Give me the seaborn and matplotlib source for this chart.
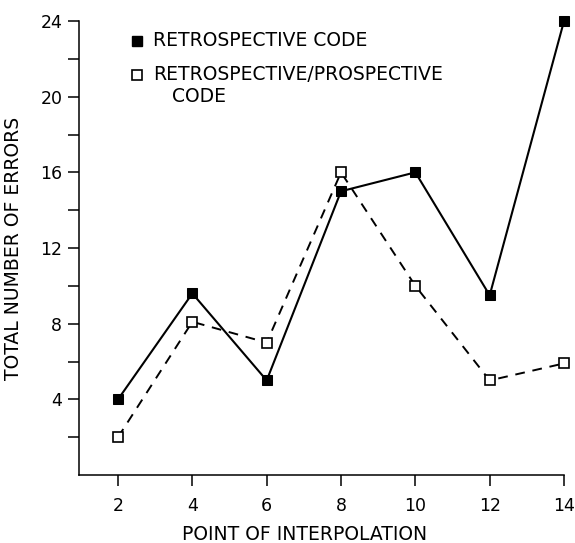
import pandas as pd
import matplotlib
matplotlib.use("Agg")
import matplotlib.pyplot as plt
import seaborn as sns

# values
points = [2, 4, 6, 8, 10, 12, 14]
retro = [4, 9.6, 5, 15, 16, 9.5, 24]
retro_pro = [2, 8.1, 7, 16, 10, 5, 5.9]

label_retro = "RETROSPECTIVE CODE"
label_retro_pro = "RETROSPECTIVE/PROSPECTIVE"
label_retro_pro2 = "CODE"

data = pd.DataFrame({"point": points, "retro": retro, "retro_pro": retro_pro})

sns.set_style("ticks")
plt.rcParams["font.family"] = ["DejaVu Sans"]
plt.rcParams["text.color"] = "black"

fig = plt.figure(figsize=(5.75, 5.43), dpi=100)
ax = fig.add_axes([0.1374, 0.1252, 0.8435, 0.8361])

# retrospective/prospective: dashed line, open squares
sns.lineplot(data=data, x="point", y="retro_pro", ax=ax, color="black",
             linewidth=1.4, linestyle=(0, (5, 4)), marker="s", markersize=7,
             markerfacecolor="white", markeredgecolor="black", markeredgewidth=1.2,
             clip_on=False)
# retrospective: solid line, filled squares
sns.lineplot(data=data, x="point", y="retro", ax=ax, color="black",
             linewidth=1.5, marker="s", markersize=7.5,
             markerfacecolor="black", markeredgecolor="black", clip_on=False)

ax.set_xlim(0.95, 14)
ax.set_ylim(0, 24)
ax.set_xticks(points)
ax.set_yticks([4, 8, 12, 16, 20, 24])
ax.set_yticks([2, 6, 10, 14, 18, 22], minor=True)
ax.tick_params(axis="both", which="both", direction="out", length=8, width=1.1,
               color="black", labelsize=12.5, labelcolor="black")
ax.tick_params(axis="x", pad=8)
ax.tick_params(axis="y", pad=4)

for side in ["top", "right"]:
    ax.spines[side].set_visible(False)
for side in ["left", "bottom"]:
    ax.spines[side].set_linewidth(1.1)
    ax.spines[side].set_color("black")

ax.set_xlabel("POINT OF INTERPOLATION", fontsize=13.5, color="black")
ax.set_ylabel("TOTAL NUMBER OF ERRORS", fontsize=13.5, color="black")
ax.xaxis.set_label_coords(0.466, -0.11)
ax.yaxis.set_label_coords(-0.115, 0.5)

# key in the upper left
ax.plot([0.12], [0.956], transform=ax.transAxes, marker="s", markersize=7.5,
        color="black", linestyle="none", clip_on=False)
ax.text(0.153, 0.956, label_retro, transform=ax.transAxes, fontsize=13.5,
        va="center", ha="left", color="black")
ax.plot([0.12], [0.881], transform=ax.transAxes, marker="s", markersize=6.5,
        markerfacecolor="white", markeredgecolor="black", markeredgewidth=1.2,
        linestyle="none", clip_on=False)
ax.text(0.153, 0.883, label_retro_pro, transform=ax.transAxes, fontsize=13.5,
        va="center", ha="left", color="black")
ax.text(0.192, 0.833, label_retro_pro2, transform=ax.transAxes, fontsize=13.5,
        va="center", ha="left", color="black")

fig.savefig("out.png", dpi=100)
